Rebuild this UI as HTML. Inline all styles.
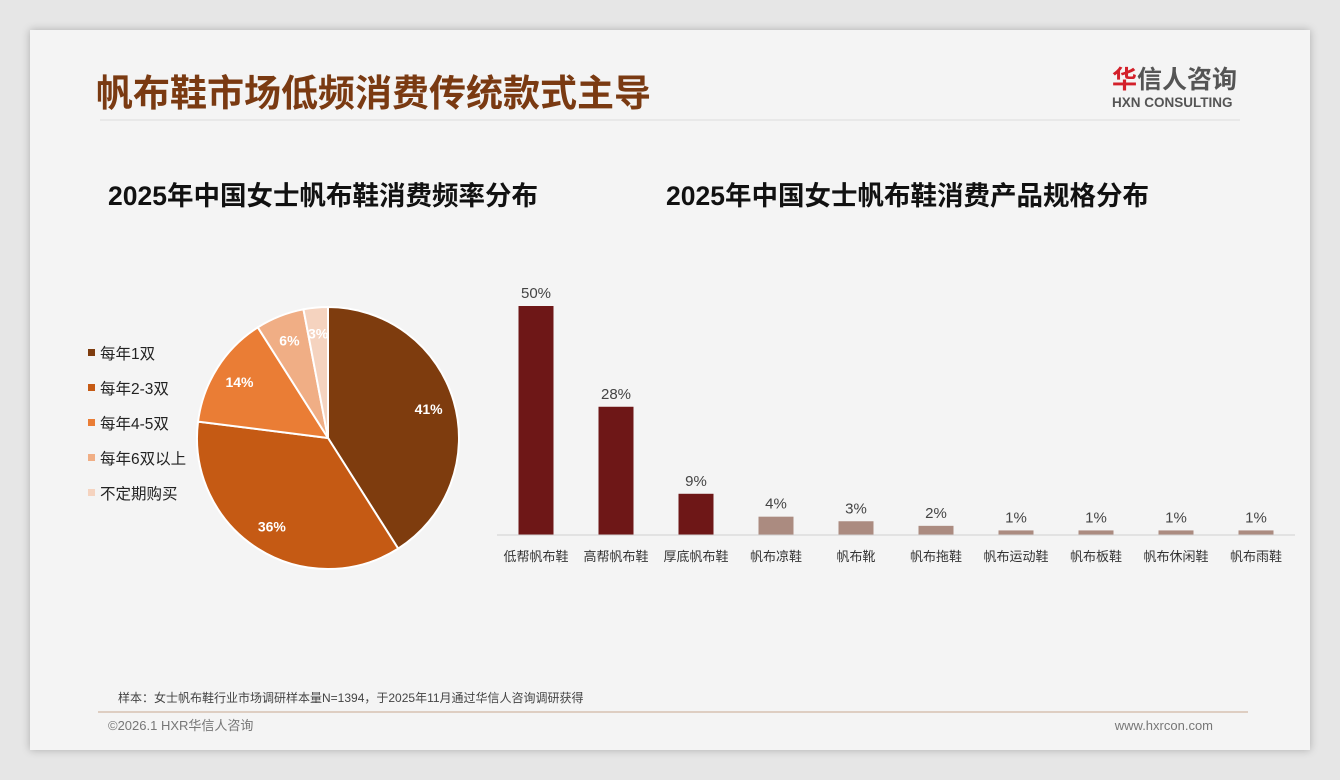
<!DOCTYPE html>
<html><head><meta charset="utf-8"><style>
body{margin:0;width:1340px;height:780px;background:#e6e6e6;overflow:hidden;font-family:"Liberation Sans","Noto Sans CJK SC",sans-serif}
#card{position:absolute;left:30px;top:30px;width:1280px;height:720px;background:#f4f4f4;box-shadow:0 0 8px rgba(0,0,0,.25)}
svg text{font-family:"Liberation Sans","Noto Sans CJK SC",sans-serif}
</style></head><body>
<div id="card"></div>
<svg id="s" width="1340" height="780" style="position:absolute;left:0;top:0">
<text x="96" y="106" font-size="37" font-weight="bold" fill="#7a3a12">帆布鞋市场低频消费传统款式主导</text>
<line x1="100" y1="120" x2="1240" y2="120" stroke="#dcdcdc"/>
<text x="1112" y="88" font-size="25" font-weight="bold" fill="#555"><tspan fill="#d3202a">华</tspan>信人咨询</text>
<text x="1112" y="107" font-size="13.5" font-weight="bold" fill="#555">HXN CONSULTING</text>
<text x="108" y="205" font-size="26.5" font-weight="bold" fill="#111">2025年中国女士帆布鞋消费频率分布</text>
<text x="666" y="205" font-size="26.5" font-weight="bold" fill="#111">2025年中国女士帆布鞋消费产品规格分布</text>
<g id="pie"></g><g id="legend"></g><g id="bars"></g>
<line x1="497" y1="535" x2="1295" y2="535" stroke="#cfcfcf"/>
<text x="118" y="702" font-size="12" fill="#444">样本：女士帆布鞋行业市场调研样本量N=1394，于2025年11月通过华信人咨询调研获得</text>
<line x1="98" y1="712" x2="1248" y2="712" stroke="#c9a890"/>
<text x="108" y="730" font-size="13" fill="#777">©2026.1 HXR华信人咨询</text>
<text x="1213" y="730" font-size="13" fill="#777" text-anchor="end">www.hxrcon.com</text>
</svg>
<script>
const pieLabels=["每年1双","每年2-3双","每年4-5双","每年6双以上","不定期购买"];
const pieValues=[41,36,14,6,3];
const pieColors=["#7e3c0e","#c55a14","#ea7d35","#f0ae85","#f5d3bf"];
const barCats=["低帮帆布鞋","高帮帆布鞋","厚底帆布鞋","帆布凉鞋","帆布靴","帆布拖鞋","帆布运动鞋","帆布板鞋","帆布休闲鞋","帆布雨鞋"];
const barValues=[50,28,9,4,3,2,1,1,1,1];
const NS="http://www.w3.org/2000/svg";
function mk(t,a,p){const e=document.createElementNS(NS,t);for(const k in a)e.setAttribute(k,a[k]);p.appendChild(e);return e;}
const cx=328,cy=438,r=131;
const total=pieValues.reduce((a,b)=>a+b,0);
let ang=0;const pie=document.getElementById('pie');
pieValues.forEach((v,i)=>{
 const a0=ang,a1=ang+v/total*2*Math.PI;ang=a1;
 const x0=cx+r*Math.sin(a0),y0=cy-r*Math.cos(a0),x1=cx+r*Math.sin(a1),y1=cy-r*Math.cos(a1);
 const p=mk('path',{d:`M${cx},${cy}L${x0},${y0}A${r},${r} 0 ${a1-a0>Math.PI?1:0} 1 ${x1},${y1}Z`,fill:pieColors[i],stroke:"#fff","stroke-width":2},pie);
 
 
 const m=(a0+a1)/2,lr=r*0.8;
 const t=mk('text',{x:cx+lr*Math.sin(m),y:cy-lr*Math.cos(m)+5,"font-size":14,"font-weight":"bold",fill:"#fff","text-anchor":"middle"},pie);
 t.textContent=v+"%";
 
 
});
const lg=document.getElementById('legend');
pieLabels.forEach((l,i)=>{
 const y=354+i*35;
 const s=mk('rect',{x:88,y:y-5,width:7,height:7,fill:pieColors[i]},lg);
 
 
 const t=mk('text',{x:100,y:y+5,"font-size":15.5,fill:"#222"},lg);
 t.textContent=l;
 
 
});
const bg=document.getElementById('bars');
const base=535,scale=4.58,x0=536,step=80,bw=35;
barValues.forEach((v,i)=>{
 const cxb=x0+i*step,h=v*scale;
 const b=mk('rect',{x:cxb-bw/2,y:base-h,width:bw,height:h,fill:i<3?"#6e1717":"#ab8b80"},bg);
 
 
 const t=mk('text',{x:cxb,y:base-h-8,"font-size":15,fill:"#444","text-anchor":"middle"},bg);
 t.textContent=v+"%";
 
 
 const c=mk('text',{x:cxb,y:561,"font-size":13,fill:"#333","text-anchor":"middle"},bg);
 c.textContent=barCats[i];
 
 
});
</script>
</body></html>
